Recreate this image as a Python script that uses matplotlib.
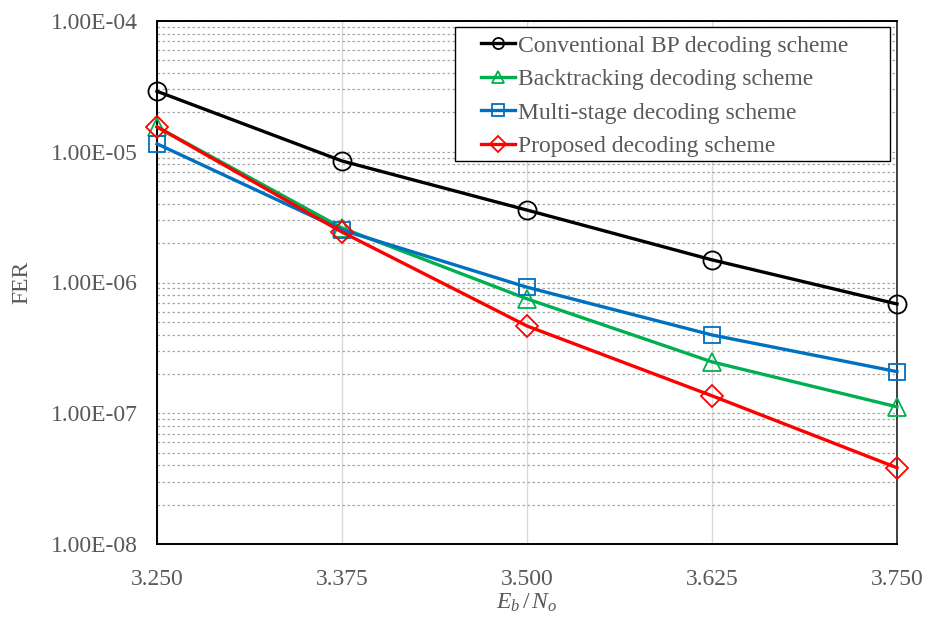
import matplotlib
matplotlib.use("Agg")
import matplotlib.pyplot as plt
from matplotlib.patches import Rectangle
from matplotlib.ticker import LogLocator, FixedLocator, NullFormatter

plt.rcParams['font.family'] = ['Liberation Serif', 'DejaVu Serif']
plt.rcParams['mathtext.fontset'] = 'custom'
plt.rcParams['mathtext.rm'] = 'Liberation Serif'
plt.rcParams['mathtext.it'] = 'Liberation Serif:italic'

ebno = [3.250, 3.375, 3.500, 3.625, 3.750]
xtick_labels = ["3.250", "3.375", "3.500", "3.625", "3.750"]
ytick_values = [1e-8, 1e-7, 1e-6, 1e-5, 1e-4]
ytick_labels = ["1.00E-08", "1.00E-07", "1.00E-06", "1.00E-05", "1.00E-04"]

conventional = [2.9e-5, 8.5e-6, 3.58e-6, 1.49e-6, 6.85e-7]
backtracking = [1.55e-5, 2.61e-6, 7.5e-7, 2.47e-7, 1.12e-7]
multistage = [1.15e-5, 2.52e-6, 9.2e-7, 3.97e-7, 2.08e-7]
proposed = [1.55e-5, 2.43e-6, 4.65e-7, 1.36e-7, 3.83e-8]

series = [
    ("Conventional BP decoding scheme", conventional, "#000000", "o"),
    ("Backtracking decoding scheme", backtracking, "#00B050", "^"),
    ("Multi-stage decoding scheme", multistage, "#0070C0", "s"),
    ("Proposed decoding scheme", proposed, "#FF0000", "D"),
]

W, H = 933, 622
fig = plt.figure(figsize=(9.33, 6.22), dpi=100)
ax = fig.add_axes([157/W, 1 - 544/H, (897-157)/W, (544-21)/H])

text_color = "#595959"
msizes = {"o": 13, "^": 13, "s": 12, "D": 11}
for label, vals, color, m in series:
    ax.plot(ebno, vals, color=color, lw=2.4, marker=m, markersize=msizes[m],
            mfc='none', mec=color, mew=1.3, label=label, zorder=3, clip_on=False)

ax.set_yscale('log')
ax.set_ylim(1e-8, 1e-4)
ax.set_xlim(3.25, 3.75)
ax.set_xticks(ebno)
ax.set_xticklabels(xtick_labels)
ax.yaxis.set_major_locator(FixedLocator(ytick_values))
ax.set_yticklabels(ytick_labels)
ax.yaxis.set_minor_locator(LogLocator(base=10, subs=range(2, 10)))
ax.yaxis.set_minor_formatter(NullFormatter())
ax.tick_params(axis='both', which='both', length=0, labelsize=17, labelcolor=text_color)
ax.tick_params(axis='x', pad=18)
ax.tick_params(axis='y', pad=14)

ax.grid(True, axis='y', which='both', color='#A6A6A6', linestyle=(0, (2, 2)), lw=0.9)
ax.grid(True, axis='x', which='major', color='#D9D9D9', linestyle='-', lw=1.0)
ax.set_axisbelow(True)

for s in ax.spines.values():
    s.set_color('#000000')
    s.set_linewidth(1.4)
ax.spines['right'].set_color('#404040')

fig.text(527/W, 1 - 603/H, r"$E_b\,/\,N_o$", fontsize=17, color=text_color,
         ha='center', va='center')
fig.text(22/W, 1 - 282/H, "FER", fontsize=17, color=text_color,
         ha='center', va='center', rotation=90)

ax.add_patch(Rectangle((455/W, 1 - 161/H), (890-455)/W, (161-27)/H,
                       transform=fig.transFigure, facecolor='white',
                       edgecolor='#000000', lw=1.0, zorder=5, clip_on=False))

leg = ax.legend(loc='upper left', bbox_to_anchor=(481/W, 1 - 35/H),
                bbox_transform=fig.transFigure, fontsize=17, frameon=False,
                handlelength=1.45, handletextpad=0.1, borderpad=0.0,
                labelspacing=0.51, borderaxespad=0)
leg.set_zorder(10)
for t in leg.get_texts():
    t.set_color(text_color)
for h in leg.legend_handles:
    h.set_markersize(8)
    h.set_linewidth(2.4)

fig.savefig("out.png", dpi=100)
